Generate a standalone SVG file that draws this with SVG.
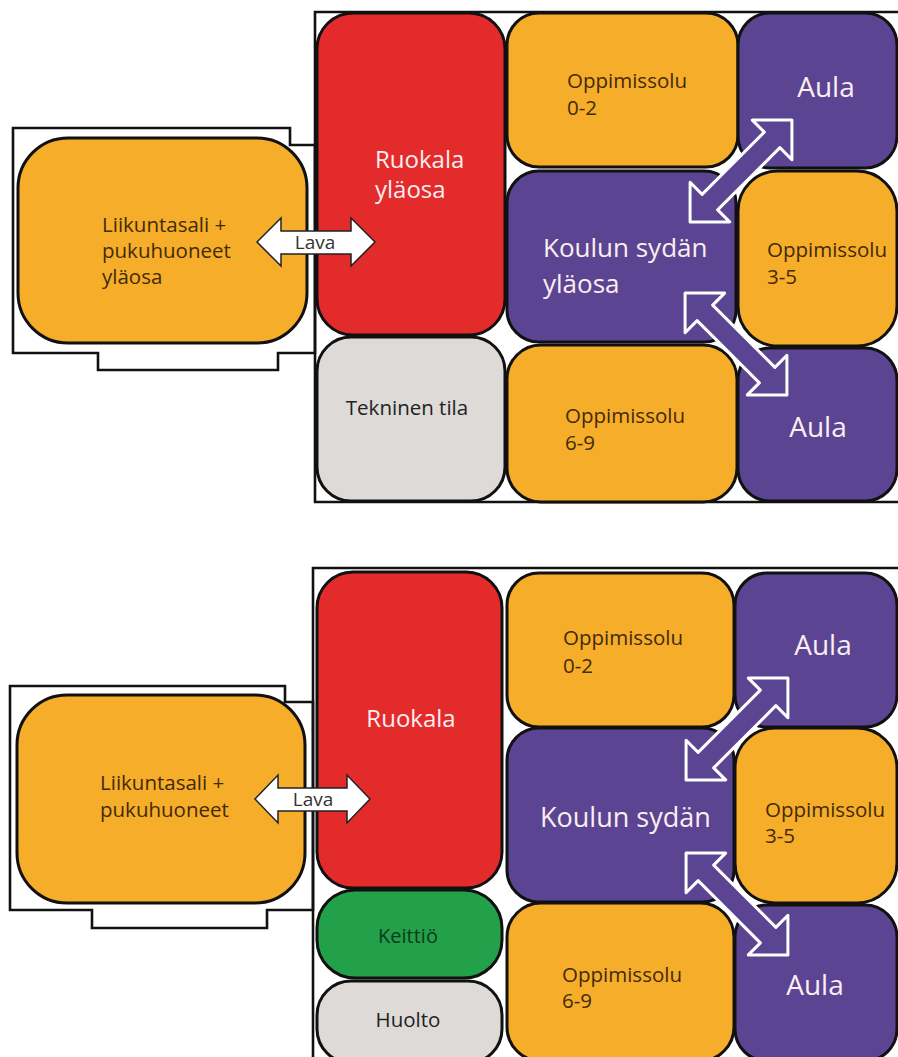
<svg xmlns="http://www.w3.org/2000/svg" xmlns:xlink="http://www.w3.org/1999/xlink" width="898" height="1057" viewBox="0 0 898 1057">
<style>
.box{stroke:#111;stroke-width:3}
.or{fill:#f5ad2a}
.rd{fill:#e32b2b}
.pu{fill:#5b4593}
.gy{fill:#dedad7}
.gr{fill:#22a04a}
.line{fill:#fff;stroke:#111;stroke-width:2.6}
.frame{fill:none;stroke:#111;stroke-width:2.6}
text{font-family:"Open Sans","Liberation Sans",sans-serif}
.tor{fill:#432a08;font-size:20.5px}
.twh{fill:#fbeef0}
.tgy{fill:#222;font-size:20.5px}
.tgr{fill:#0f3a1b;font-size:20px}
.big{font-size:27px}
.big2{font-size:26px}
.ruo{font-size:24px}
.aula{font-size:28px;text-anchor:middle}
.mid{text-anchor:middle}
.lava{fill:#fff;stroke:#222;stroke-width:1.5;stroke-linejoin:miter}
.ltxt{fill:#333;font-size:19px;text-anchor:middle}
.dbl{fill:#5b4593;stroke:#fff;stroke-width:3;stroke-linejoin:round}
</style>
<defs>
<path id="dblarrow" d="M-72,0 L-44,-28 L-44,-11 L44,-11 L44,-28 L72,0 L44,28 L44,11 L-44,11 L-44,28 Z"/>
</defs>
<rect width="898" height="1057" fill="#fff"/>

<g id="outlines">
<path class="line" d="M315,145 H290 V128 H13 V353 H98 V370 H278 V353 H315 Z"/>
<path class="frame" d="M900,12 H315 V502 H900"/>
<path class="line" d="M313,702 H285 V686 H10 V910 H92 V928 H267 V910 H313 Z"/>
<path class="frame" d="M900,568 H313 V1060"/>
</g>

<!-- TOP SECTION -->
<g id="top-liikuntasali">
<rect class="box or" x="18" y="138" width="289" height="205" rx="50"/>
<text class="tor" x="102" y="232"><tspan x="102" y="232">Liikuntasali +</tspan><tspan x="102" y="258">pukuhuoneet</tspan><tspan x="102" y="284">yläosa</tspan></text>
</g>
<g id="top-ruokala">
<rect class="box rd" x="317" y="13" width="188" height="322" rx="36"/>
<text class="twh ruo" x="375" y="168"><tspan x="375" y="168">Ruokala</tspan><tspan x="375" y="198">yläosa</tspan></text>
</g>
<g id="top-tekninen">
<rect class="box gy" x="317" y="337" width="188" height="164" rx="34"/>
<text class="tgy mid" x="407" y="415">Tekninen tila</text>
</g>
<g id="top-oppimissolu-02">
<rect class="box or" x="507" y="13" width="231" height="154" rx="32"/>
<text class="tor" x="567" y="88"><tspan x="567" y="88">Oppimissolu</tspan><tspan x="567" y="115">0-2</tspan></text>
</g>
<g id="top-aula-1">
<rect class="box pu" x="738" y="13" width="159" height="155" rx="32"/>
<text class="twh aula" x="826" y="97">Aula</text>
</g>
<g id="top-koulun-sydan">
<rect class="box pu" x="507" y="171" width="229" height="171" rx="32"/>
<text class="twh big2" x="543" y="257"><tspan x="543" y="257">Koulun sydän</tspan><tspan x="543" y="293">yläosa</tspan></text>
</g>
<g id="top-oppimissolu-35">
<rect class="box or" x="738" y="171" width="159" height="175" rx="40"/>
<text class="tor" x="767" y="257"><tspan x="767" y="257">Oppimissolu</tspan><tspan x="767" y="284">3-5</tspan></text>
</g>
<g id="top-oppimissolu-69">
<rect class="box or" x="507" y="345" width="230" height="157" rx="34"/>
<text class="tor" x="565" y="423"><tspan x="565" y="423">Oppimissolu</tspan><tspan x="565" y="450">6-9</tspan></text>
</g>
<g id="top-aula-2">
<rect class="box pu" x="738" y="348" width="159" height="153" rx="32"/>
<text class="twh aula" x="818" y="437">Aula</text>
</g>

<!-- BOTTOM SECTION -->
<g id="bottom-liikuntasali">
<rect class="box or" x="17" y="695" width="288" height="208" rx="50"/>
<text class="tor" x="100" y="790"><tspan x="100" y="790">Liikuntasali +</tspan><tspan x="100" y="817">pukuhuoneet</tspan></text>
</g>
<g id="bottom-ruokala">
<rect class="box rd" x="317" y="572" width="185" height="316" rx="36"/>
<text class="twh ruo mid" x="411" y="727">Ruokala</text>
</g>
<g id="bottom-keittio">
<rect class="box gr" x="317" y="890" width="185" height="88" rx="38"/>
<text class="tgr mid" x="408" y="943">Keittiö</text>
</g>
<g id="bottom-huolto">
<rect class="box gy" x="317" y="981" width="185" height="82" rx="34"/>
<text class="tgy mid" x="408" y="1027">Huolto</text>
</g>
<g id="bottom-oppimissolu-02">
<rect class="box or" x="507" y="573" width="227" height="154" rx="32"/>
<text class="tor" x="563" y="645"><tspan x="563" y="645">Oppimissolu</tspan><tspan x="563" y="673">0-2</tspan></text>
</g>
<g id="bottom-aula-1">
<rect class="box pu" x="735" y="573" width="162" height="154" rx="32"/>
<text class="twh aula" x="823" y="655">Aula</text>
</g>
<g id="bottom-koulun-sydan">
<rect class="box pu" x="507" y="728" width="227" height="174" rx="32"/>
<text class="twh big" x="540" y="827">Koulun sydän</text>
</g>
<g id="bottom-oppimissolu-35">
<rect class="box or" x="735" y="728" width="162" height="175" rx="40"/>
<text class="tor" x="765" y="817"><tspan x="765" y="817">Oppimissolu</tspan><tspan x="765" y="843">3-5</tspan></text>
</g>
<g id="bottom-oppimissolu-69">
<rect class="box or" x="507" y="903" width="227" height="158" rx="34"/>
<text class="tor" x="562" y="982"><tspan x="562" y="982">Oppimissolu</tspan><tspan x="562" y="1008">6-9</tspan></text>
</g>
<g id="bottom-aula-2">
<rect class="box pu" x="735" y="905" width="162" height="156" rx="32"/>
<text class="twh aula" x="815" y="995">Aula</text>
</g>

<g id="connectors">
<path class="lava" d="M257,242 L281,218 L281,231 L351,231 L351,218 L375,242 L351,266 L351,254 L281,254 L281,266 Z"/>
<text class="ltxt" x="315" y="249">Lava</text>
<use class="dbl" xlink:href="#dblarrow" transform="translate(741,171) rotate(-45)"/>
<use class="dbl" xlink:href="#dblarrow" transform="translate(736,344) rotate(45)"/>
<path class="lava" d="M255,799 L278,775 L278,788 L347,788 L347,775 L370,799 L347,823 L347,811 L278,811 L278,823 Z"/>
<text class="ltxt" x="313" y="806">Lava</text>
<use class="dbl" xlink:href="#dblarrow" transform="translate(737,729) rotate(-45)"/>
<use class="dbl" xlink:href="#dblarrow" transform="translate(737,904) rotate(45)"/>
</g>
</svg>
